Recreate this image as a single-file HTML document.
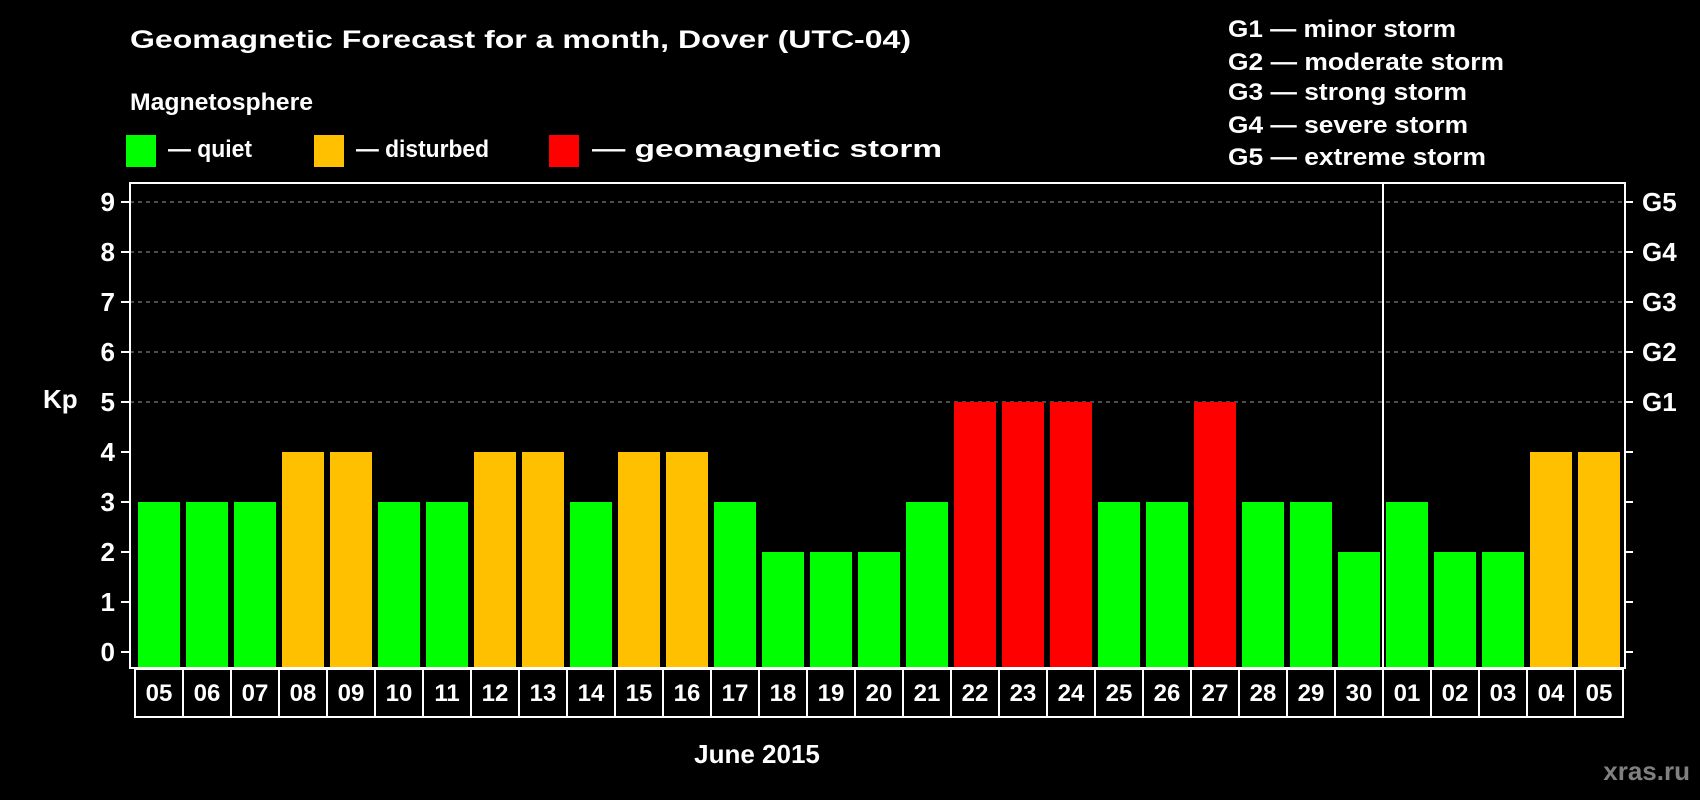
<!DOCTYPE html>
<html><head><meta charset="utf-8"><style>
html,body{margin:0;padding:0;background:#000;}
svg{display:block;font-family:"Liberation Sans",Arial,sans-serif;font-weight:bold;}
</style></head><body>
<svg id="chart" width="1700" height="800" viewBox="0 0 1700 800">
<rect width="1700" height="800" fill="#000"/>
<text x="130" y="48" font-size="25" fill="#fff" textLength="781" lengthAdjust="spacingAndGlyphs">Geomagnetic Forecast for a month, Dover (UTC-04)</text>
<text x="130" y="110" font-size="24" fill="#fff" textLength="183" lengthAdjust="spacingAndGlyphs">Magnetosphere</text>
<g>
<rect x="126" y="135" width="30" height="32" fill="#00ff00"/>
<text x="168" y="157" font-size="24" fill="#fff" textLength="84" lengthAdjust="spacingAndGlyphs">— quiet</text></g>
<g>
<rect x="314" y="135" width="30" height="32" fill="#ffc000"/>
<text x="356" y="157" font-size="24" fill="#fff" textLength="133" lengthAdjust="spacingAndGlyphs">— disturbed</text></g>
<g>
<rect x="549" y="135" width="30" height="32" fill="#ff0000"/>
<text x="592" y="157" font-size="24" fill="#fff" textLength="350" lengthAdjust="spacingAndGlyphs">— geomagnetic storm</text></g>
<g font-size="24" fill="#fff">
<text x="1228" y="37" textLength="228" lengthAdjust="spacingAndGlyphs">G1 — minor storm</text>
<text x="1228" y="70" textLength="276" lengthAdjust="spacingAndGlyphs">G2 — moderate storm</text>
<text x="1228" y="100" textLength="239" lengthAdjust="spacingAndGlyphs">G3 — strong storm</text>
<text x="1228" y="133" textLength="240" lengthAdjust="spacingAndGlyphs">G4 — severe storm</text>
<text x="1228" y="165" textLength="258" lengthAdjust="spacingAndGlyphs">G5 — extreme storm</text>
</g>
<text x="43" y="408" font-size="26" fill="#fff">Kp</text>
<text x="757" y="763" font-size="26" fill="#fff" text-anchor="middle">June 2015</text>
<text x="1690" y="780" font-size="26" fill="#808080" text-anchor="end">xras.ru</text>
<g id="plot"></g>
</svg>
<script>
const days = ["05","06","07","08","09","10","11","12","13","14","15","16","17","18","19","20","21","22","23","24","25","26","27","28","29","30","01","02","03","04","05"];
const kp = [3,3,3,4,4,3,3,4,4,3,4,4,3,2,2,2,3,5,5,5,3,3,5,3,3,2,3,2,2,4,4];
const yTicks = [0,1,2,3,4,5,6,7,8,9];
const gLabels = ["G1","G2","G3","G4","G5"];
const gLevels = [5,6,7,8,9];
const monthBreakIndex = 26;

const NS = "http://www.w3.org/2000/svg";
const plot = document.getElementById("plot");
const X0 = 135, CW = 48, Y0 = 652, UNIT = 50, LEFT = 130, RIGHT = 1625, TOP = 183, BOTTOM = 668;
const xs = i => X0 + i * CW;
const ys = v => Y0 - v * UNIT;
function mk(tag, attrs) { const e = document.createElementNS(NS, tag); for (const k in attrs) e.setAttribute(k, attrs[k]); plot.appendChild(e); return e; }
function color(v) { return v >= 5 ? "#ff0000" : v >= 4 ? "#ffc000" : "#00ff00"; }

gLevels.forEach((v) => {
  const l = mk("line", {x1: LEFT, x2: RIGHT, y1: ys(v), y2: ys(v), stroke: "#999", "stroke-width": 1, "stroke-dasharray": "4,4"});
  
  
});
kp.forEach((v, i) => {
  const r = mk("rect", {x: xs(i) + 3, y: ys(v), width: 42, height: BOTTOM - ys(v), fill: color(v)});
  
  
});
const frame = mk("rect", {x: LEFT, y: TOP, width: RIGHT - LEFT, height: BOTTOM - TOP, fill: "none", stroke: "#fff", "stroke-width": 2});


const sep = mk("line", {x1: xs(monthBreakIndex), x2: xs(monthBreakIndex), y1: TOP, y2: BOTTOM, stroke: "#fff", "stroke-width": 2});


yTicks.forEach((v) => {
  mk("line", {x1: LEFT - 9, x2: LEFT, y1: ys(v), y2: ys(v), stroke: "#fff", "stroke-width": 2});
  mk("line", {x1: RIGHT, x2: RIGHT + 8, y1: ys(v), y2: ys(v), stroke: "#fff", "stroke-width": 2});
  const t = mk("text", {x: 115, y: ys(v) + 9, "font-size": 26, fill: "#fff", "text-anchor": "end"});
  t.textContent = v;
  
  
});
gLabels.forEach((g, i) => {
  const t = mk("text", {x: 1642, y: ys(gLevels[i]) + 9, "font-size": 26, fill: "#fff"});
  t.textContent = g;
  
  
});
days.forEach((d, i) => {
  const b = mk("rect", {x: xs(i), y: 669, width: CW, height: 48, fill: "#000", stroke: "#fff", "stroke-width": 2});
  
  
  const t = mk("text", {x: xs(i) + CW / 2, y: 701, "font-size": 24, fill: "#fff", "text-anchor": "middle"});
  t.textContent = d;
  
  
});
</script>
</body></html>
